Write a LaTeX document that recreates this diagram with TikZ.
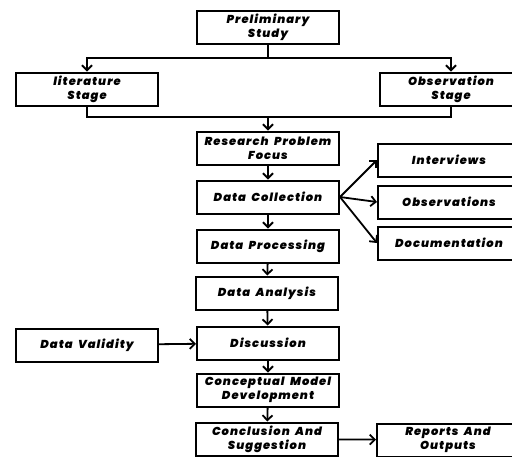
\documentclass[tikz,border=0pt]{standalone}
\usepackage{fontspec}
\setmainfont{Poppins}[LetterSpace=9, WordSpace=1.8, BoldItalicFont={Poppins Black Italic}]
\usetikzlibrary{arrows.meta}

\begin{document}
\begin{tikzpicture}[x=1pt,y=-1pt,
    box/.style={draw, line width=2pt, minimum width=142pt, minimum height=33pt,
        align=center, inner sep=1pt,
        font=\bfseries\itshape\fontsize{11.5}{14}\selectfont},
    arr/.style={-{Straight Barb[length=5pt,width=10pt,line width=1.8pt]}, line width=1.8pt}]
    \useasboundingbox (0,0) rectangle (512,456);

    % Nodes
    \node(prelim) [box] at (268,27) {Preliminary\\Study};
    \node(lit) [box] at (87,89) {literature\\Stage};
    \node(obs) [box] at (451,89) {Observation\\Stage};
    \node(focus) [box] at (268,148) {Research Problem\\Focus};
    \node(collect) [box] at (268,197) {Data Collection};
    \node(interv) [box] at (449,160) {Interviews};
    \node(observ) [box] at (449,202) {Observations};
    \node(docu) [box] at (449,243) {Documentation};
    \node(process) [box] at (268,246) {Data Processing};
    \node(analysis) [box] at (267,293) {Data Analysis};
    \node(validity) [box] at (87,345) {Data Validity};
    \node(discuss) [box] at (268,343) {Discussion};
    \node(model) [box] at (268,390) {Conceptual Model\\Development};
    \node(conclude) [box] at (267,439) {Conclusion And\\Suggestion};
    \node(report) [box] at (448,440) {Reports And\\Outputs};

    \coordinate(split) at (268,58);
    \coordinate(merge) at (268,117);

    % Edges
    \draw[line width=1.8pt] (prelim) -- (split);
    \draw[arr] (split) -| (lit);
    \draw[arr] (split) -| (obs);
    \draw[line width=1.8pt] (lit) |- (merge);
    \draw[line width=1.8pt] (obs) |- (merge);
    \draw[arr] (merge) -- (focus);
    \draw[arr] (focus) -- (collect);
    \draw[arr] (collect.east) -- (interv.west);
    \draw[arr] (collect.east) -- (observ.west);
    \draw[arr] (collect.east) -- (docu.west);
    \draw[arr] (collect) -- (process);
    \draw[arr] (process) -- (analysis);
    \draw[arr] (analysis) -- (discuss);
    \draw[arr] (validity) -- (discuss);
    \draw[arr] (discuss) -- (model);
    \draw[arr] (model) -- (conclude);
    \draw[arr] (conclude) -- (report);
\end{tikzpicture}
\end{document}
